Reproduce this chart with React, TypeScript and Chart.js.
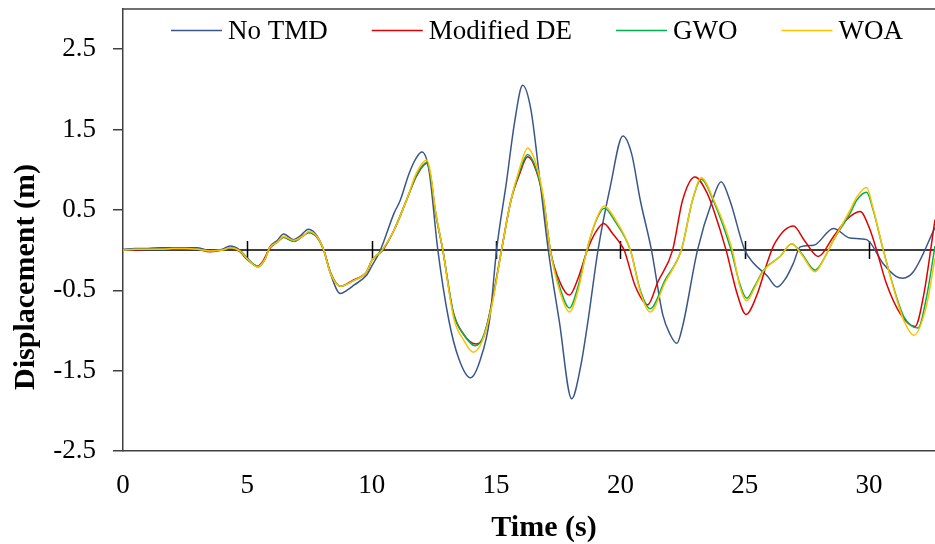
import React, { useEffect, useRef } from "react";
import { Chart, registerables } from "chart.js";

Chart.register(...registerables);

const SERIES_NAMES = ["No TMD", "Modified DE", "GWO", "WOA"];
const SERIES_COLORS = ["#3a5689", "#e00000", "#00b050", "#ffc000"];
const X_TICKS = [0, 5, 10, 15, 20, 25, 30];
const Y_TICKS = [-2.5, -1.5, -0.5, 0.5, 1.5, 2.5];
const X_MIN = 0;
const X_MAX = 32.65;
const Y_MIN = -2.5;
const Y_MAX = 3;
const X_TITLE = "Time (s)";
const Y_TITLE = "Displacement (m)";

// [time (s), displacement (m)]
const NO_TMD: [number, number][] = [
  [0, 0.01], [0.5, 0.02], [1, 0.02], [1.5, 0.03], [2, 0.03], [2.5, 0.03], [3, 0.03], [3.5, -0.01], [4, 0.01],
  [4.3, 0.05], [4.7, 0.0], [5.0, -0.1], [5.42, -0.21], [5.7, -0.12], [5.9, 0.04], [6.2, 0.12], [6.46, 0.2],
  [6.86, 0.13], [7.1, 0.17], [7.46, 0.26], [7.8, 0.18], [8.07, 0.0], [8.35, -0.3], [8.74, -0.54], [9.0, -0.5],
  [9.27, -0.44], [9.8, -0.31], [10.0, -0.2], [10.35, 0.0], [10.9, 0.46], [11.15, 0.62], [11.5, 0.95], [11.8, 1.15],
  [12.02, 1.22], [12.3, 1.0], [12.66, 0.0], [13.1, -0.87], [13.5, -1.35], [13.97, -1.59], [14.35, -1.38],
  [14.75, -0.85], [15.02, 0.0], [15.42, 0.85], [15.75, 1.6], [16.07, 2.05], [16.4, 1.75], [16.75, 0.9],
  [17.1, 0.0], [17.55, -0.9], [18.04, -1.85], [18.4, -1.45], [18.7, -0.875], [19.1, 0.0], [19.6, 0.8],
  [20.1, 1.42], [20.45, 1.2], [20.8, 0.62], [21.25, 0.0], [21.7, -0.8], [22.0, -1.05], [22.27, -1.16],
  [22.5, -0.95], [23.1, 0.0], [23.7, 0.62], [24.05, 0.85], [24.4, 0.62], [25.0, 0.0], [25.35, -0.16],
  [25.9, -0.32], [26.3, -0.46], [26.65, -0.35], [26.96, -0.16], [27.23, 0.04], [27.77, 0.06], [28.57, 0.27],
  [29.23, 0.15], [29.9, 0.13], [30.57, -0.17], [31.1, -0.33], [31.35, -0.35], [31.78, -0.27], [32.65, 0.28],
];

const MODIFIED_DE: [number, number][] = [
  [0, 0.0], [0.5, 0.0], [1, 0.01], [1.5, 0.01], [2, 0.02], [2.5, 0.02], [3, 0.01], [3.5, -0.02], [4, 0.0],
  [4.3, 0.03], [4.7, -0.02], [5.0, -0.12], [5.42, -0.2], [5.6, -0.15], [5.9, 0.02], [6.2, 0.1], [6.46, 0.16],
  [6.86, 0.11], [7.26, 0.18], [7.46, 0.22], [7.8, 0.16], [8.07, 0.0], [8.33, -0.27], [8.74, -0.45],
  [9.27, -0.37], [9.8, -0.27], [10.0, -0.13], [10.45, 0.0], [10.9, 0.25], [11.4, 0.62], [11.8, 0.92],
  [12.22, 1.08], [12.38, 0.9], [12.55, 0.5], [12.86, 0.0], [13.26, -0.75], [13.7, -1.05], [14.2, -1.17],
  [14.5, -1.08], [14.8, -0.7], [15.22, 0.0], [15.6, 0.62], [15.95, 0.95], [16.27, 1.16], [16.6, 1.0],
  [16.91, 0.62], [17.18, 0.0], [17.6, -0.42], [17.95, -0.56], [18.3, -0.35], [18.67, 0.0], [19.0, 0.22],
  [19.33, 0.33], [19.7, 0.2], [20.0, 0.08], [20.15, 0.0], [20.6, -0.45], [21.1, -0.68], [21.5, -0.4],
  [22.1, 0.0], [22.5, 0.62], [23.0, 0.91], [23.5, 0.7], [23.75, 0.5], [24.25, 0.0], [24.7, -0.55],
  [25.05, -0.8], [25.5, -0.55], [25.9, -0.16], [26.2, 0.08], [26.96, 0.3], [27.4, 0.12], [27.96, -0.08],
  [28.57, 0.17], [29.1, 0.38], [29.64, 0.48], [30.04, 0.25], [30.3, 0.0], [30.7, -0.42], [31.25, -0.79],
  [31.85, -0.95], [32.2, -0.55], [32.65, 0.38],
];

const GWO: [number, number][] = [
  [0, 0.0], [0.5, 0.01], [1, 0.01], [1.5, 0.01], [2, 0.02], [2.5, 0.02], [3, 0.01], [3.5, -0.01], [4, 0.0],
  [4.3, 0.03], [4.7, -0.01], [5.0, -0.11], [5.42, -0.2], [5.7, -0.12], [5.9, 0.03], [6.2, 0.1], [6.46, 0.16],
  [6.86, 0.11], [7.26, 0.18], [7.46, 0.22], [7.8, 0.16], [8.07, 0.0], [8.33, -0.27], [8.74, -0.45],
  [9.27, -0.38], [9.8, -0.27], [10.0, -0.13], [10.42, 0.0], [10.9, 0.25], [11.4, 0.62], [11.8, 0.93],
  [12.22, 1.09], [12.38, 0.9], [12.55, 0.5], [12.86, 0.0], [13.3, -0.8], [13.7, -1.05], [14.15, -1.19],
  [14.45, -1.1], [14.8, -0.72], [15.22, 0.0], [15.6, 0.62], [15.95, 0.98], [16.27, 1.19], [16.6, 1.02],
  [16.91, 0.62], [17.18, 0.0], [17.6, -0.5], [17.95, -0.72], [18.3, -0.45], [18.65, 0.0], [19.0, 0.35],
  [19.35, 0.52], [19.8, 0.35], [20.4, 0.0], [20.8, -0.5], [21.2, -0.73], [21.8, -0.37], [22.45, 0.0],
  [22.9, 0.62], [23.25, 0.88], [23.73, 0.62], [24.45, 0.0], [24.8, -0.42], [25.08, -0.6], [25.4, -0.45],
  [25.75, -0.25], [26.42, -0.08], [26.89, 0.08], [27.3, -0.05], [27.83, -0.25], [28.2, -0.1], [28.57, 0.125],
  [29.24, 0.46], [29.5, 0.62], [29.9, 0.72], [30.16, 0.5], [30.57, 0.0], [31.1, -0.58], [31.4, -0.83],
  [31.97, -0.97], [32.3, -0.6], [32.65, 0.05],
];

const WOA: [number, number][] = [
  [0, 0.0], [0.5, 0.01], [1, 0.01], [1.5, 0.01], [2, 0.02], [2.5, 0.02], [3, 0.01], [3.5, -0.01], [4, 0.0],
  [4.3, 0.03], [4.7, -0.01], [5.0, -0.11], [5.42, -0.21], [5.7, -0.12], [5.9, 0.03], [6.2, 0.1], [6.46, 0.17],
  [6.86, 0.12], [7.26, 0.18], [7.46, 0.23], [7.8, 0.17], [8.07, 0.0], [8.33, -0.28], [8.74, -0.45],
  [9.27, -0.38], [9.8, -0.27], [10.0, -0.13], [10.42, 0.0], [10.9, 0.25], [11.4, 0.62], [11.8, 0.96],
  [12.22, 1.12], [12.38, 0.93], [12.55, 0.52], [12.86, 0.0], [13.3, -0.85], [13.7, -1.12], [14.08, -1.27],
  [14.42, -1.15], [14.8, -0.74], [15.22, 0.0], [15.6, 0.62], [15.95, 1.02], [16.27, 1.27], [16.6, 1.08],
  [16.91, 0.65], [17.18, 0.0], [17.6, -0.55], [17.95, -0.77], [18.3, -0.5], [18.65, 0.0], [19.0, 0.36],
  [19.35, 0.55], [19.8, 0.38], [20.4, 0.0], [20.8, -0.52], [21.2, -0.77], [21.8, -0.4], [22.45, 0.0],
  [22.9, 0.62], [23.25, 0.9], [23.73, 0.64], [24.5, 0.0], [24.8, -0.45], [25.08, -0.63], [25.4, -0.47],
  [25.75, -0.26], [26.42, -0.08], [26.89, 0.08], [27.3, -0.06], [27.83, -0.27], [28.2, -0.1], [28.57, 0.125],
  [29.24, 0.5], [29.5, 0.66], [29.9, 0.78], [30.16, 0.52], [30.57, 0.0], [31.1, -0.6], [31.4, -0.88],
  [31.8, -1.06], [32.3, -0.7], [32.65, -0.1],
];

const SERIES_DATA = [NO_TMD, MODIFIED_DE, GWO, WOA];

const FONT_FAMILY = "'Liberation Serif', 'Times New Roman', serif";

const decorPlugin = {
  id: "decor",
  beforeDatasetsDraw(chart: any) {
    const { ctx, chartArea: a, scales } = chart;
    const x = scales.x;
    const y = scales.y;
    ctx.save();
    // top frame line
    ctx.strokeStyle = "#404040";
    ctx.lineWidth = 1.5;
    ctx.beginPath();
    ctx.moveTo(a.left, a.top);
    ctx.lineTo(a.right, a.top);
    ctx.stroke();
    // zero axis line with cross tick marks
    const y0 = y.getPixelForValue(0);
    ctx.strokeStyle = "#000";
    ctx.lineWidth = 1.5;
    ctx.beginPath();
    ctx.moveTo(a.left, y0);
    ctx.lineTo(a.right, y0);
    for (const t of X_TICKS) {
      if (t === X_MIN) continue;
      const px = Math.round(x.getPixelForValue(t)) + 0.5;
      ctx.moveTo(px, y0 - 9);
      ctx.lineTo(px, y0 + 9);
    }
    ctx.stroke();
    ctx.restore();
  },
  afterDraw(chart: any) {
    const { ctx } = chart;
    ctx.save();
    // legend
    ctx.font = `27px ${FONT_FAMILY}`;
    ctx.textBaseline = "alphabetic";
    ctx.textAlign = "left";
    let lx = 171;
    const ly = 30.5;
    SERIES_NAMES.forEach((name, i) => {
      ctx.strokeStyle = SERIES_COLORS[i];
      ctx.lineWidth = 1.6;
      ctx.beginPath();
      ctx.moveTo(lx, ly);
      ctx.lineTo(lx + 51, ly);
      ctx.stroke();
      ctx.fillStyle = "#000";
      ctx.fillText(name, lx + 57, 38.5);
      lx += 57 + ctx.measureText(name).width + 44;
    });
    // axis titles
    ctx.font = `bold 30px ${FONT_FAMILY}`;
    ctx.fillStyle = "#000";
    ctx.textAlign = "center";
    ctx.fillText(X_TITLE, 544, 536);
    ctx.translate(34, 277);
    ctx.rotate(-Math.PI / 2);
    ctx.fillText(Y_TITLE, 0, 0);
    ctx.restore();
  },
};

export default function App() {
  const ref = useRef<HTMLCanvasElement>(null);

  useEffect(() => {
    if (!ref.current) return;
    const tickFont = { family: FONT_FAMILY, size: 27 };
    const chart = new Chart(ref.current, {
      type: "line",
      data: {
        datasets: SERIES_NAMES.map((name, i) => ({
          label: name,
          data: SERIES_DATA[i].map(([t, v]) => ({ x: t, y: v })),
          borderColor: SERIES_COLORS[i],
          backgroundColor: SERIES_COLORS[i],
          borderWidth: 1.5,
          pointRadius: 0,
          fill: false,
          cubicInterpolationMode: "monotone" as const,
          order: SERIES_NAMES.length - i,
        })),
      },
      options: {
        animation: false,
        responsive: false,
        devicePixelRatio: 1,
        layout: { padding: { top: 9, left: 0, right: 0, bottom: 0 } },
        plugins: {
          legend: { display: false },
          tooltip: { enabled: false },
          title: { display: false },
        },
        scales: {
          x: {
            type: "linear",
            min: X_MIN,
            max: X_MAX,
            afterBuildTicks: (s: any) => {
              s.ticks = X_TICKS.map((v) => ({ value: v }));
            },
            afterFit: (s: any) => {
              s.height = 93;
              s.paddingLeft = 0;
              s.paddingRight = 0;
              s.paddingTop = 0;
              s.paddingBottom = 0;
            },
            grid: { display: false, drawTicks: false },
            border: { display: true, color: "#404040", width: 1.5 },
            ticks: {
              padding: 19,
              color: "#000",
              font: tickFont,
              maxRotation: 0,
              autoSkip: false,
              callback: (v: any) => String(v),
            },
          },
          y: {
            type: "linear",
            min: Y_MIN,
            max: Y_MAX,
            afterBuildTicks: (s: any) => {
              s.ticks = Y_TICKS.map((v) => ({ value: v }));
            },
            afterFit: (s: any) => {
              s.width = 123;
              s.paddingLeft = 0;
              s.paddingRight = 0;
              s.paddingTop = 0;
              s.paddingBottom = 0;
            },
            grid: {
              display: true,
              drawOnChartArea: false,
              drawTicks: true,
              tickLength: 10,
              color: "#404040",
              lineWidth: 1.5,
            },
            border: { display: true, color: "#404040", width: 1.5 },
            ticks: {
              padding: 17,
              color: "#000",
              font: tickFont,
              autoSkip: false,
              callback: (v: any) => Number(v).toFixed(1),
            },
          },
        },
      },
      plugins: [decorPlugin],
    });
    return () => chart.destroy();
  }, []);

  return (
    <div
      style={{
        position: "absolute",
        left: 0,
        top: 0,
        width: 935,
        height: 544,
        background: "#fff",
      }}
    >
      <canvas ref={ref} width={935} height={544} style={{ display: "block" }} />
    </div>
  );
}
